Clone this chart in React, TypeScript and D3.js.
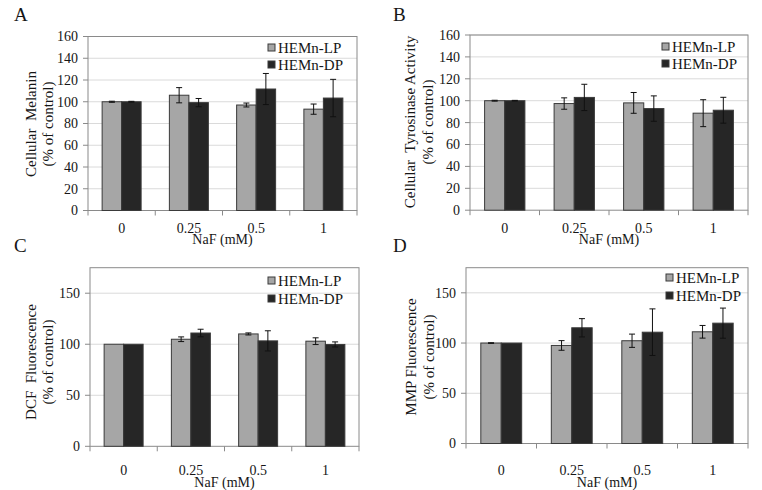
import React from "react";
import * as d3 from "d3";

const categories = ["0", "0.25", "0.5", "1"];
const seriesNames = ["HEMn-LP", "HEMn-DP"];

const melaninLP = [100, 106, 97, 93.2];
const melaninLPErr = [0.5, 7, 1.8, 4.7];
const melaninDP = [100, 99.2, 111.7, 103.4];
const melaninDPErr = [0.4, 3.8, 14.3, 17.2];

const tyrosinaseLP = [100, 97.4, 98, 88.6];
const tyrosinaseLPErr = [0.4, 5.2, 9.5, 12.3];
const tyrosinaseDP = [100, 103, 92.8, 91.3];
const tyrosinaseDPErr = [0.3, 12, 11.6, 11.8];

const dcfLP = [100, 104.9, 110.1, 103];
const dcfLPErr = [0, 2.3, 1, 3.3];
const dcfDP = [100, 111, 103.3, 99.8];
const dcfDPErr = [0, 3.7, 9.9, 2.5];

const mmpLP = [100, 97.6, 102.3, 111.2];
const mmpLPErr = [0.3, 4.8, 6.6, 6.3];
const mmpDP = [100, 115.2, 110.8, 119.8];
const mmpDPErr = [0, 9.1, 23.2, 15];

const ticks160 = [0, 20, 40, 60, 80, 100, 120, 140, 160];
const ticks175 = [0, 50, 100, 150];

const FONT = "Liberation Serif, Times New Roman, serif";
const LP_FILL = "#a6a6a6";
const DP_FILL = "#262626";
const BAR_STROKE = "#3a3a3a";
const AXIS = "#8a8a8a";
const GRID = "#dadada";
const TEXT = "#161616";

type PanelProps = {
  letter: string;
  letterX: number;
  letterY: number;
  x0: number;
  x1: number;
  yTop: number;
  yBottom: number;
  yMax: number;
  yTicks: number[];
  lp: number[];
  lpErr: number[];
  dp: number[];
  dpErr: number[];
  titleLines: string[];
  titleXs: number[];
  titleY: number;
  tickBaseline: number;
  xTitleBaseline: number;
  legendX: number;
  legendY: number[];
};

function Panel(p: PanelProps) {
  const x = d3.scaleBand<string>().domain(categories).range([p.x0, p.x1]);
  const y = d3.scaleLinear().domain([0, p.yMax]).range([p.yBottom, p.yTop]);
  const bw = x.bandwidth() / 3.45;
  const series = [
    { vals: p.lp, errs: p.lpErr, fill: LP_FILL },
    { vals: p.dp, errs: p.dpErr, fill: DP_FILL },
  ];
  const boundaries = d3.range(categories.length + 1).map(
    (i) => p.x0 + i * x.step()
  );
  return (
    <g>
      <text x={p.letterX} y={p.letterY} fontSize={19} fontFamily={FONT} fill={TEXT}>
        {p.letter}
      </text>
      {p.yTicks
        .filter((t) => t > 0)
        .map((t) => (
          <line
            key={"g" + t}
            x1={p.x0}
            x2={p.x1}
            y1={y(t)}
            y2={y(t)}
            stroke={GRID}
            strokeWidth={1}
          />
        ))}
      <rect
        x={p.x0}
        y={p.yTop}
        width={p.x1 - p.x0}
        height={p.yBottom - p.yTop}
        fill="none"
        stroke={AXIS}
        strokeWidth={1}
      />
      {p.yTicks.map((t) => (
        <g key={"yt" + t}>
          <line x1={p.x0 - 5} x2={p.x0} y1={y(t)} y2={y(t)} stroke={AXIS} />
          <text
            x={p.x0 - 10}
            y={y(t)}
            dy="0.35em"
            textAnchor="end"
            fontSize={14}
            fontFamily={FONT}
            fill={TEXT}
          >
            {t}
          </text>
        </g>
      ))}
      {boundaries.map((bx, i) => (
        <line
          key={"xt" + i}
          x1={bx}
          x2={bx}
          y1={p.yBottom}
          y2={p.yBottom + 5}
          stroke={AXIS}
        />
      ))}
      {categories.map((c) => (
        <text
          key={"xl" + c}
          x={(x(c) as number) + x.bandwidth() / 2}
          y={p.tickBaseline}
          textAnchor="middle"
          fontSize={14}
          fontFamily={FONT}
          fill={TEXT}
        >
          {c}
        </text>
      ))}
      <text
        x={(p.x0 + p.x1) / 2}
        y={p.xTitleBaseline}
        textAnchor="middle"
        fontSize={14}
        fontFamily={FONT}
        fill={TEXT}
      >
        NaF (mM)
      </text>
      {p.titleLines.map((line, i) => (
        <text
          key={"yl" + i}
          transform={`translate(${p.titleXs[i]},${p.titleY}) rotate(-90)`}
          textAnchor="middle"
          dy="0.35em"
          fontSize={15}
          fontFamily={FONT}
          fill={TEXT}
          style={{ whiteSpace: "pre" }}
        >
          {line}
        </text>
      ))}
      {categories.map((c, ci) => {
        const cx = (x(c) as number) + x.bandwidth() / 2;
        return series.map((s, si) => {
          const bx = cx - bw + si * bw;
          const v = s.vals[ci];
          const e = s.errs[ci];
          const mid = bx + bw / 2;
          return (
            <g key={c + "-" + si}>
              <rect
                x={bx}
                y={y(v)}
                width={bw}
                height={p.yBottom - y(v)}
                fill={s.fill}
                stroke={BAR_STROKE}
                strokeWidth={1}
              />
              {e > 0 && (
                <g stroke="#111" strokeWidth={1}>
                  <line x1={mid} x2={mid} y1={y(v + e)} y2={y(v - e)} />
                  <line x1={mid - 3} x2={mid + 3} y1={y(v + e)} y2={y(v + e)} />
                  <line x1={mid - 3} x2={mid + 3} y1={y(v - e)} y2={y(v - e)} />
                </g>
              )}
            </g>
          );
        });
      })}
      {seriesNames.map((n, i) => (
        <g key={"lg" + n}>
          <rect
            x={p.legendX}
            y={p.legendY[i] - 4}
            width={7}
            height={7}
            fill={i === 0 ? LP_FILL : DP_FILL}
            stroke={BAR_STROKE}
            strokeWidth={1}
          />
          <text
            x={p.legendX + 10}
            y={p.legendY[i]}
            dy="0.35em"
            fontSize={15}
            fontFamily={FONT}
            fill={TEXT}
          >
            {n}
          </text>
        </g>
      ))}
    </g>
  );
}

export default function App() {
  return (
    <svg
      width={762}
      height={490}
      style={{ position: "absolute", left: 0, top: 0, display: "block", background: "#fff" }}
    >
      <rect x={0} y={0} width={762} height={490} fill="#fff" />
      <Panel
        letter="A"
        letterX={14}
        letterY={21}
        x0={88}
        x1={357}
        yTop={36.5}
        yBottom={210.5}
        yMax={160}
        yTicks={ticks160}
        lp={melaninLP}
        lpErr={melaninLPErr}
        dp={melaninDP}
        dpErr={melaninDPErr}
        titleLines={["Cellular  Melanin", "(% of control)"]}
        titleXs={[31, 48]}
        titleY={124}
        tickBaseline={233}
        xTitleBaseline={244}
        legendX={268}
        legendY={[48, 65]}
      />
      <Panel
        letter="B"
        letterX={393}
        letterY={21}
        x0={470}
        x1={748}
        yTop={35}
        yBottom={210.2}
        yMax={160}
        yTicks={ticks160}
        lp={tyrosinaseLP}
        lpErr={tyrosinaseLPErr}
        dp={tyrosinaseDP}
        dpErr={tyrosinaseDPErr}
        titleLines={["Cellular  Tyrosinase Activity", "(% of control)"]}
        titleXs={[410, 428]}
        titleY={122}
        tickBaseline={233}
        xTitleBaseline={244}
        legendX={662}
        legendY={[47, 64]}
      />
      <Panel
        letter="C"
        letterX={14}
        letterY={252}
        x0={90}
        x1={359}
        yTop={267.7}
        yBottom={446.3}
        yMax={175}
        yTicks={ticks175}
        lp={dcfLP}
        lpErr={dcfLPErr}
        dp={dcfDP}
        dpErr={dcfDPErr}
        titleLines={["DCF  Fluorescence", "(% of control)"]}
        titleXs={[31, 48]}
        titleY={362}
        tickBaseline={475}
        xTitleBaseline={487}
        legendX={268}
        legendY={[281, 299]}
      />
      <Panel
        letter="D"
        letterX={393}
        letterY={252}
        x0={466}
        x1={748}
        yTop={267.7}
        yBottom={443.5}
        yMax={175}
        yTicks={ticks175}
        lp={mmpLP}
        lpErr={mmpLPErr}
        dp={mmpDP}
        dpErr={mmpDPErr}
        titleLines={["MMP Fluorescence", "(% of control)"]}
        titleXs={[411, 429]}
        titleY={357}
        tickBaseline={475}
        xTitleBaseline={487}
        legendX={666}
        legendY={[278, 296]}
      />
    </svg>
  );
}
